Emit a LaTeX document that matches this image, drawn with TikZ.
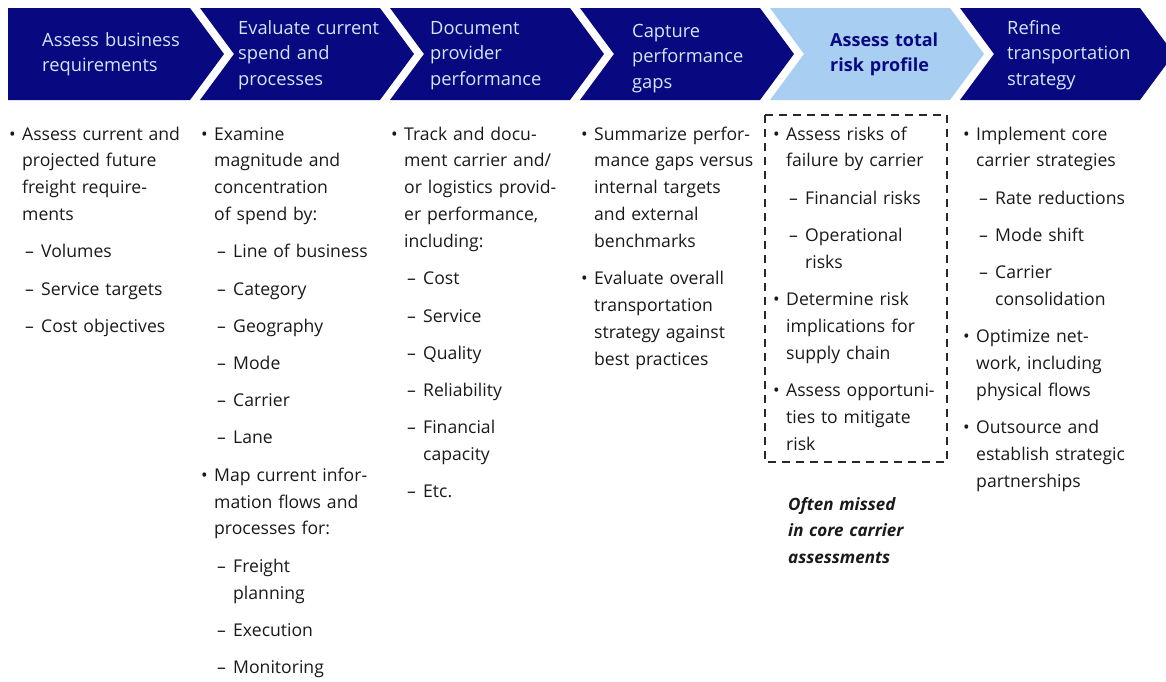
\documentclass[tikz,border=0pt]{standalone}
\usepackage{fontspec}
\setmainfont{Open Sans}
\definecolor{navy}{RGB}{8,8,128}
\definecolor{paleblue}{RGB}{168,206,242}
\definecolor{headtext}{RGB}{214,230,250}
\definecolor{bodytext}{RGB}{25,25,25}
\definecolor{boxline}{RGB}{40,40,40}
% list helpers: hanging bullet, dash item, continuation indent, item break
\newcommand\bul{\leavevmode\llap{\makebox[13pt][l]{\textbullet}}}
\newcommand\dsh{\leavevmode\makebox[19pt][l]{\hspace*{3pt}–}}
\newcommand\ind{\leavevmode\hspace*{19pt}}
\newcommand\nx{\\[10.3pt]}
\tikzset{
  chev/.style={fill=navy},
  chevlight/.style={fill=paleblue},
  head/.style={anchor=base west, inner sep=0pt, text width=175pt, align=left,
    text=headtext, font=\fontsize{18.3}{25.5}\selectfont},
  headlight/.style={head, text=navy, font=\fontsize{18}{25.5}\selectfont\bfseries},
  body/.style={anchor=base west, inner sep=0pt, text width=185pt, align=left,
    text=bodytext, font=\fontsize{17.6}{26.9}\selectfont},
  note/.style={body, font=\fontsize{17}{26.9}\selectfont\bfseries\itshape},
  riskbox/.style={draw=boxline, line width=1.3pt, dash pattern=on 8pt off 6pt}
}
\begin{document}
\begin{tikzpicture}[x=1pt,y=-1pt]
\useasboundingbox (0,0) rectangle (1166,681);
\clip (0,0) rectangle (1166,681);

% process chevrons
\fill[chev] (8,8) -- (190,8) -- (224,54) -- (190,100) -- (8,100) -- cycle;
\foreach \x/\st in {200/chev,390/chev,580/chev,770/chevlight,960/chev}
  \fill[\st] (\x,8) -- ++(180,0) -- ++(34,46) -- ++(-34,46) -- ++(-180,0) -- ++(34,-46) -- cycle;

% chevron titles
\node[head] (h1) at (42,46) {Assess business\\requirements};
\node[head] (h2) at (238,34) {Evaluate current\\spend and\\processes};
\node[head] (h3) at (430,34) {Document\\provider\\performance};
\node[head] (h4) at (632,37) {Capture\\performance\\gaps};
\node[headlight] (h5) at (830,46) {Assess total\\risk profile};
\node[head] (h6) at (1007,34) {Refine\\transportation\\strategy};

% step details
\node[body] (b1) at (22,140) {\bul Assess current and\\projected future\\freight require-\\ments\nx
\dsh Volumes\nx\dsh Service targets\nx\dsh Cost objectives};

\node[body] (b2) at (214,140) {\bul Examine\\magnitude and\\concentration\\of spend by:\nx
\dsh Line of business\nx\dsh Category\nx\dsh Geography\nx\dsh Mode\nx
\dsh Carrier\nx\dsh Lane\nx
\bul Map current infor-\\mation flows and\\processes for:\nx
\dsh Freight\\\ind planning\nx\dsh Execution\nx\dsh Monitoring};

\node[body] (b3) at (404,140) {\bul Track and docu-\\ment carrier and/\\or logistics provid-\\er performance,\\including:\nx
\dsh Cost\nx\dsh Service\nx\dsh Quality\nx\dsh Reliability\nx
\dsh Financial\\\ind capacity\nx\dsh Etc.};

\node[body] (b4) at (594,140) {\bul Summarize perfor-\\mance gaps versus\\internal targets\\and external\\benchmarks\nx
\bul Evaluate overall\\transportation\\strategy against\\best practices};

\node[body] (b5) at (786,140) {\bul Assess risks of\\failure by carrier\nx
\dsh Financial risks\nx\dsh Operational\\\ind risks\nx
\bul Determine risk\\implications for\\supply chain\nx
\bul Assess opportuni-\\ties to mitigate\\risk};

\node[body] (b6) at (976,140) {\bul Implement core\\carrier strategies\nx
\dsh Rate reductions\nx\dsh Mode shift\nx\dsh Carrier\\\ind consolidation\nx
\bul Optimize net-\\work, including\\physical flows\nx
\bul Outsource and\\establish strategic\\partnerships};

% highlighted risk step
\draw[riskbox] (765,115) rectangle (947,462);
\node[note] (n5) at (788,510) {Often missed\\in core carrier\\assessments};
\end{tikzpicture}
\end{document}
